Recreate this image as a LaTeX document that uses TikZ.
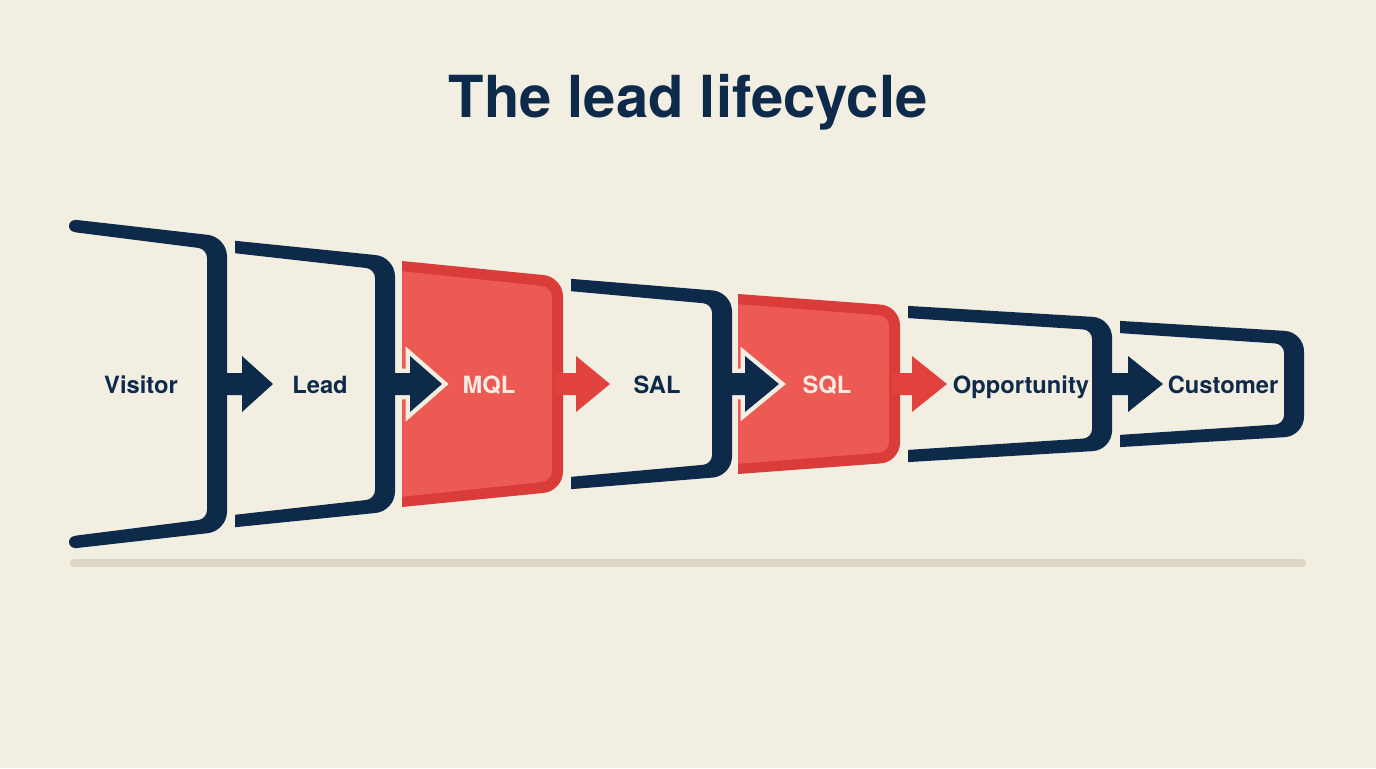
\documentclass[tikz,border=0pt]{standalone}
\usepackage{fontspec}
\setmainfont{TeX Gyre Heros}
\usepackage{xcolor}
\definecolor{paper}{HTML}{F3EEE2}
\definecolor{navy}{HTML}{0E2A4B}
\definecolor{hot}{HTML}{EC5A53}
\definecolor{hotedge}{HTML}{DA3C3A}
\definecolor{hotarrow}{HTML}{E2423E}
\definecolor{shelf}{HTML}{DDD6C6}
\definecolor{pale}{HTML}{FBEAE2}

\begin{document}
\begin{tikzpicture}[x=0.02cm, y=-0.02cm,
    stagetext/.style={font=\fontsize{13.5}{16}\selectfont\bfseries, text=navy, anchor=base},
    hottext/.style={stagetext, text=pale}]
  \useasboundingbox (0,0) rectangle (1376,768);
  \fill[paper] (0,0) rectangle (1376,768);

  \node[font=\fontsize{33}{38}\selectfont\bfseries, text=navy, anchor=base]
    (title) at (688,117) {The lead lifecycle};

  % shelf under the funnel
  \draw[shelf, line width=4.5pt, line cap=round] (74,563) -- (1302,563);

  % red stages
  \foreach \xl/\xr/\tl/\tr in {402/563/261/277, 738/900/294/306} {
    \pgfmathsetmacro\ext{\tl-(\tr-\tl)*40/(\xr-\xl)}
    \begin{scope}
      \clip (\xl,0) rectangle (1376,768);
      \fill[hotedge, rounded corners=11pt] (\xl-40,\ext) -- (\xr,\tr)
        -- (\xr,768-\tr) -- (\xl-40,768-\ext) -- cycle;
      \fill[hot, rounded corners=6pt] (\xl-40,\ext+10) -- (\xr-11,\tr+10)
        -- (\xr-11,758-\tr) -- (\xl-40,758-\ext) -- cycle;
    \end{scope}
  }

  % arrows between stages
  \foreach \xa/\xb/\xt/\col in {217/242/273/navy, 555/576/610/hotarrow,
      892/912/947/hotarrow, 1102/1128/1163/navy}
    \fill[\col] (\xa,373) -- (\xb,373) -- (\xb,356) -- (\xt,384)
      -- (\xb,412) -- (\xb,395) -- (\xa,395) -- cycle;
  \foreach \xa/\xb/\xt in {385/410/442, 722/745/779}
    \fill[navy, preaction={draw=paper, line width=5pt}]
      (\xa,373) -- (\xb,373) -- (\xb,356) -- (\xt,384)
      -- (\xb,412) -- (\xb,395) -- (\xa,395) -- cycle;

  % navy stages
  \foreach \xl/\xr/\tl/\tr in {75/217/226/243, 235/385/247/263, 571/722/285/298,
      908/1102/312/324, 1120/1294/327/338} {
    \pgfmathsetmacro\ext{\tl-(\tr-\tl)*40/(\xr-\xl)}
    \begin{scope}
      \clip (\xl,0) rectangle (1376,768);
      \fill[navy, even odd rule] [rounded corners=11pt]
        (\xl-40,\ext-6) -- (\xr+10,\tr-6) -- (\xr+10,774-\tr) -- (\xl-40,774-\ext) -- cycle
        [rounded corners=5pt]
        (\xl-40,\ext+6) -- (\xr-10,\tr+6) -- (\xr-10,762-\tr) -- (\xl-40,762-\ext) -- cycle;
    \end{scope}
  }
  \fill[navy] (75,226) circle (3.4pt) (75,542) circle (3.4pt);

  \node[stagetext] (visitor) at (141,393) {Visitor};
  \node[stagetext] (lead) at (320,393) {Lead};
  \node[hottext] (mql) at (489,393) {MQL};
  \node[stagetext] (sal) at (657,393) {SAL};
  \node[hottext] (sql) at (827,393) {SQL};
  \node[stagetext] (opp) at (1021,393) {Opportunity};
  \node[stagetext] (cust) at (1223,393) {Customer};
\end{tikzpicture}
\end{document}
